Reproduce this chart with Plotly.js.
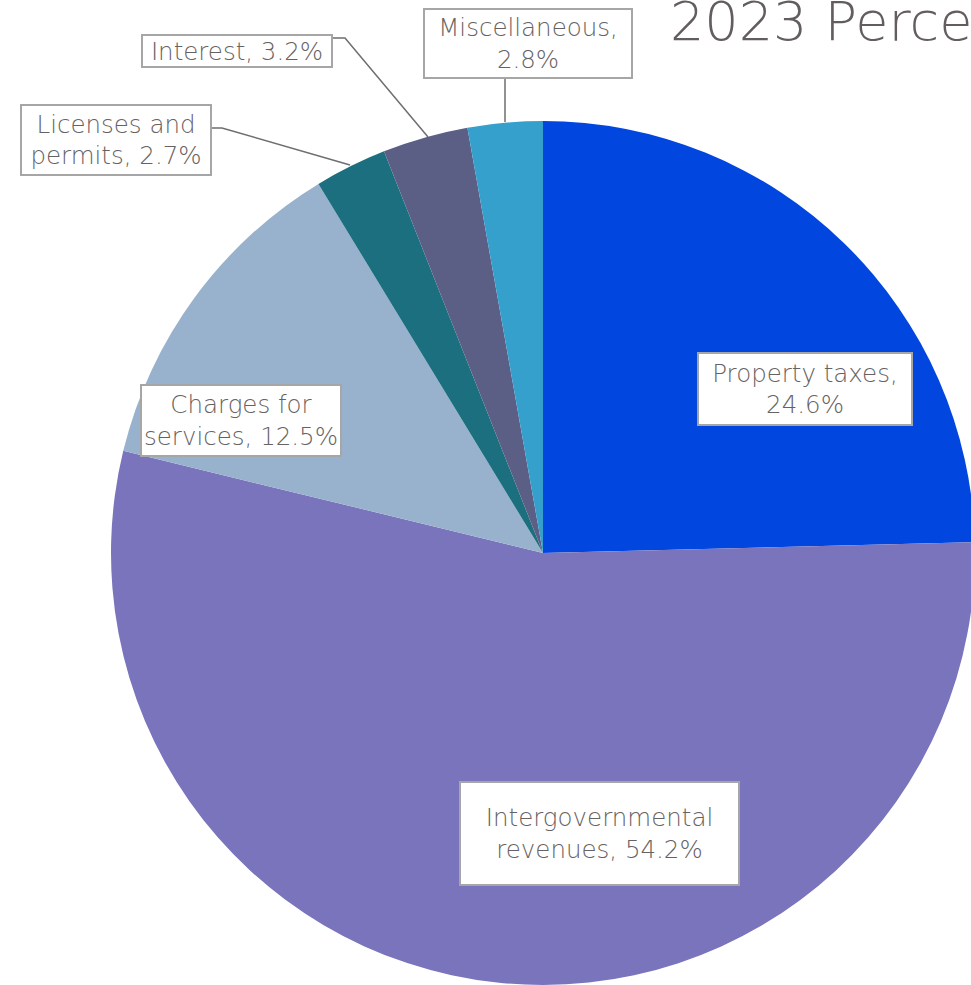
<!DOCTYPE html>
<html>
<head>
<meta charset="utf-8">
<script src="https://cdn.plot.ly/plotly-3.0.1.min.js"></script>
<style>
html,body{margin:0;padding:0;overflow:hidden;background:#fff;}
#chart{width:980px;height:985px;}
</style>
</head>
<body>
<div id="chart"></div>
<script>
const categories = ["Property taxes", "Intergovernmental revenues", "Charges for services", "Licenses and permits", "Interest", "Miscellaneous"];
const values = [24.6, 54.2, 12.5, 2.7, 3.2, 2.8];
const labelTexts = ["Property taxes,<br>24.6%", "Intergovernmental<br>revenues, 54.2%", "Charges for<br>services, 12.5%", "Licenses and<br>permits, 2.7%", "Interest, 3.2%", "Miscellaneous,<br>2.8%"];
const colors = ["#0046DF", "#7A74BC", "#98B2CD", "#1B6F7F", "#5B5F86", "#36A0CD"];
const titleText = "2023 Percentage of Revenues";

const W = 980, H = 985;
const px = x => x / W;
const py = y => 1 - y / H;

// label box centres (pixels) and sizes
const boxes = [
  {cx: 805, cy: 389, w: 216, h: 74},
  {cx: 599.5, cy: 833.5, w: 281, h: 105},
  {cx: 241, cy: 420.5, w: 202, h: 73},
  {cx: 116, cy: 140, w: 192, h: 72},
  {cx: 237, cy: 51, w: 192, h: 34},
  {cx: 528, cy: 43.5, w: 210, h: 71}
];

const annotations = boxes.map((b, i) => ({
  xref: 'paper', yref: 'paper', x: px(b.cx), y: py(b.cy),
  xanchor: 'center', yanchor: 'middle',
  text: labelTexts[i], showarrow: false,
  width: b.w - 4, height: b.h - 4,
  bgcolor: '#ffffff', bordercolor: '#A6A6A6', borderwidth: 2, borderpad: 0,
  font: {family: 'DejaVu Sans, sans-serif', size: 24.5, weight: 300, color: '#676262'},
  align: 'center', valign: 'middle'
}));

annotations.push({
  xref: 'paper', yref: 'paper', x: px(668), y: py(22),
  xanchor: 'left', yanchor: 'middle', showarrow: false,
  text: titleText,
  font: {family: 'DejaVu Sans, sans-serif', size: 54, weight: 300, color: '#635D5F'}
});

const lineStyle = {color: '#6E6E6E', width: 1.5};
const leaders = [
  [[212, 128], [222, 128], [350, 165]],
  [[333, 38], [345, 38], [428, 137]],
  [[505, 79], [505, 122]]
];
const shapes = leaders.map(pts => ({
  type: 'path', xref: 'paper', yref: 'paper', layer: 'below',
  path: pts.map((p, k) => (k ? 'L' : 'M') + px(p[0]) + ',' + py(p[1])).join(' '),
  line: lineStyle
}));

const trace = {
  type: 'pie',
  labels: categories,
  values: values,
  sort: false,
  direction: 'clockwise',
  rotation: 0,
  marker: {colors: colors, line: {width: 0}},
  textinfo: 'none',
  hoverinfo: 'none',
  domain: {x: [(543 - 432) / W, (543 + 432) / W], y: [0, (H - 121) / H]}
};

Plotly.newPlot('chart', [trace], {
  width: W, height: H,
  margin: {l: 0, r: 0, t: 0, b: 0},
  paper_bgcolor: '#ffffff',
  showlegend: false,
  annotations: annotations,
  shapes: shapes
}, {staticPlot: true});
</script>
</body>
</html>
